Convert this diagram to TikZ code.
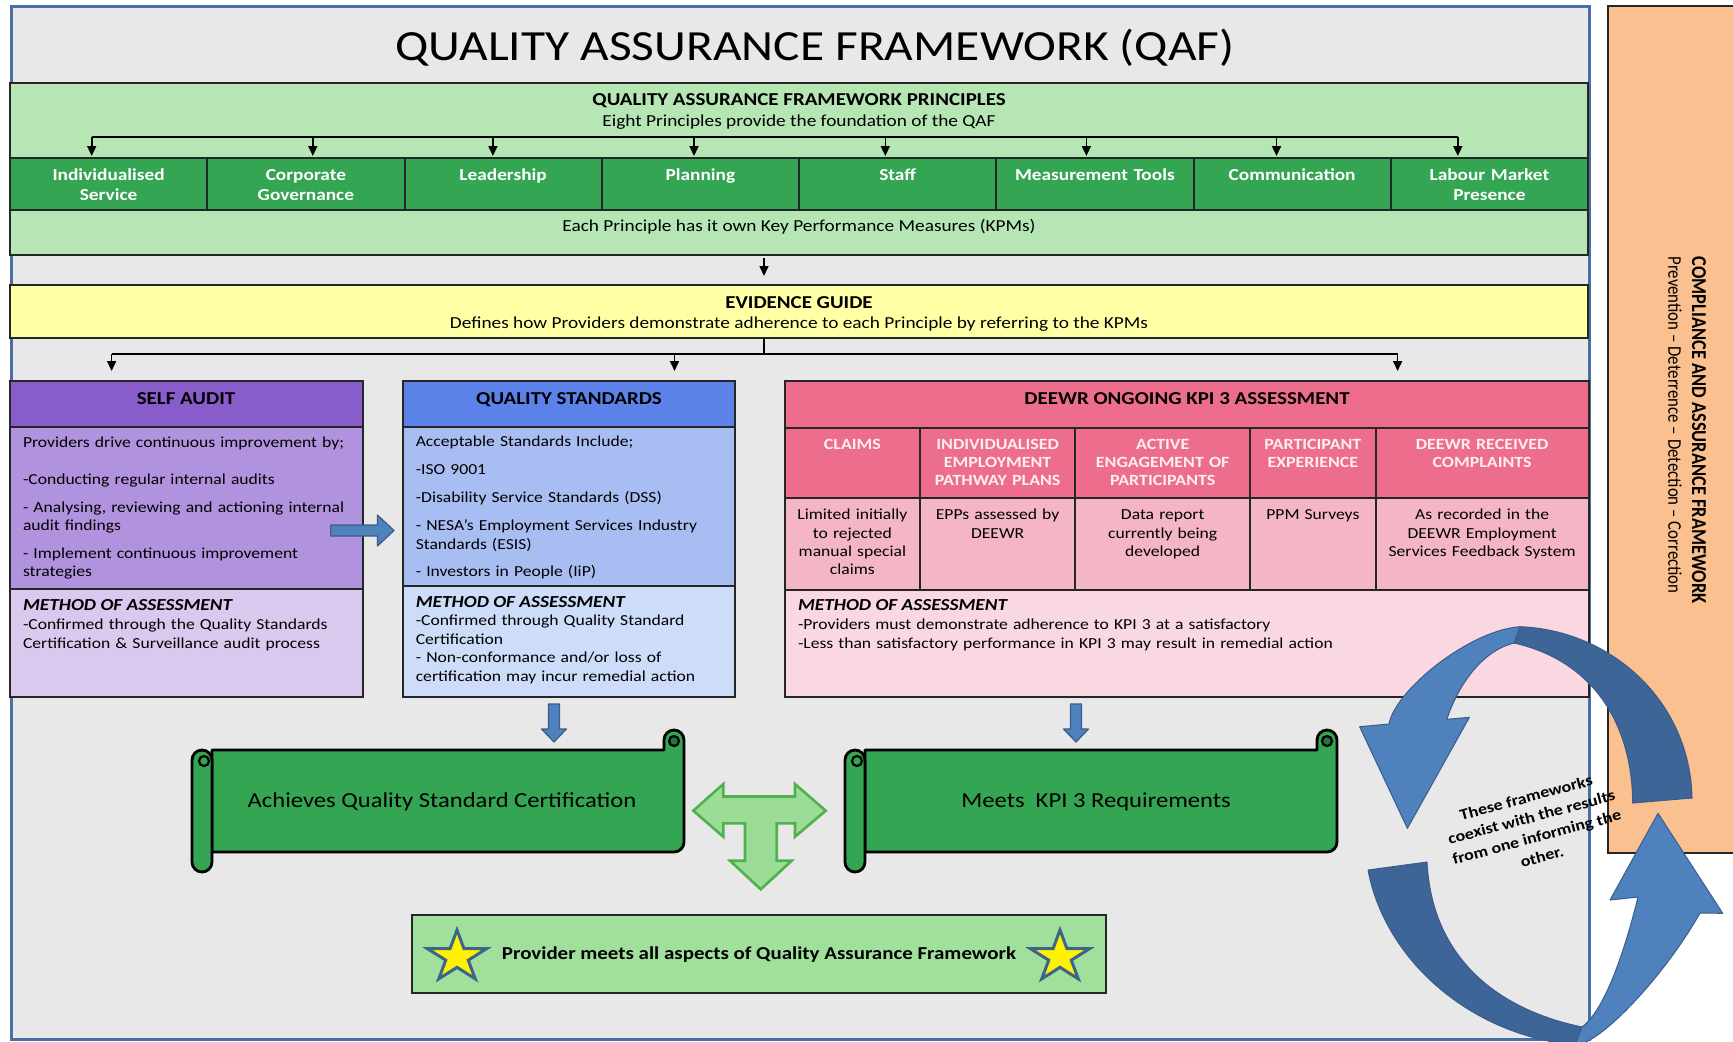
\documentclass[tikz,border=0pt]{standalone}
\usepackage{fontspec}
\setmainfont{Carlito}[FakeStretch=1.15]
\newfontfamily\plaincarlito{Carlito}
\usetikzlibrary{arrows.meta}
\definecolor{bgGray}{RGB}{232,232,232}
\definecolor{frameBlue}{RGB}{74,110,165}
\definecolor{lgreen}{RGB}{181,230,180}
\definecolor{mgreen}{RGB}{52,165,83}
\definecolor{dgreen}{RGB}{30,120,60}
\definecolor{evY}{RGB}{255,255,166}
\definecolor{saH}{RGB}{137,92,204}
\definecolor{saM}{RGB}{177,146,222}
\definecolor{saB}{RGB}{218,201,238}
\definecolor{qsH}{RGB}{90,130,232}
\definecolor{qsM}{RGB}{168,190,242}
\definecolor{qsB}{RGB}{205,220,248}
\definecolor{dwH}{RGB}{237,110,140}
\definecolor{dwM}{RGB}{244,182,198}
\definecolor{dwB}{RGB}{249,216,226}
\definecolor{orng}{RGB}{250,192,143}
\definecolor{arrBlue}{RGB}{79,129,189}
\definecolor{arrDark}{RGB}{61,101,151}
\definecolor{arrLine}{RGB}{56,93,138}
\definecolor{tFill}{RGB}{155,221,150}
\definecolor{tLine}{RGB}{80,176,80}
\definecolor{provG}{RGB}{160,224,156}
\definecolor{starLine}{RGB}{62,100,140}
\definecolor{hdrTxt}{RGB}{255,238,242}
\tikzset{
  panel/.style={draw=black!85, line width=1pt, inner sep=0pt, outer sep=0pt, anchor=north west},
  txt/.style={inner sep=0pt, outer sep=0pt},
  arr/.style={-{Triangle[length=5pt,width=4.5pt]}, line width=0.8pt, black},
  conn/.style={line width=0.8pt, black},
  scrl/.style={fill=mgreen, draw=black, line width=1.4pt, line join=round},
  scrlthin/.style={draw=black, line width=1.1pt},
  blockarr/.style={fill=arrBlue, draw=arrLine, line width=0.6pt, line join=round},
  ribbonL/.style={fill=arrBlue, draw=arrLine, line width=0.5pt, line join=round},
  ribbonD/.style={fill=arrDark, draw=arrLine, line width=0.5pt, line join=round},
  starsty/.style={fill=yellow, draw=starLine, line width=1.5pt, line join=miter},
  hdr/.style={txt, anchor=base, font=\bfseries\fontsize{9.1}{11}\selectfont},
  body/.style={txt, anchor=base west, align=left, font=\fontsize{7.65}{9.2}\selectfont},
  meth/.style={txt, anchor=base west, font=\bfseries\itshape\fontsize{8.4}{10}\selectfont},
  colhdr/.style={txt, anchor=base, align=center, text=hdrTxt, font=\bfseries\fontsize{7.8}{9.15}\selectfont},
  coldat/.style={txt, anchor=base, align=center, font=\fontsize{7.65}{9.2}\selectfont},
}
\newcommand{\boxnode}[6]{\node[panel, fill=#6, minimum width={(#4-#2)*0.5pt}, minimum height={(#5-#3)*0.5pt}] (#1) at (#2,#3) {};}
\newcommand{\scrollshape}[4]{%
  \draw[scrl] ({#1+20},{#2+20}) -- ({#3-20},{#2+20}) -- ({#3-20},{#2+10}) arc[start angle=180,end angle=360,radius=10] -- (#3,{#4-30}) arc[start angle=0,end angle=90,radius=10] -- ({#1+20},{#4-20}) -- cycle;
  \draw[scrl] (#1,{#2+30}) arc[start angle=180,end angle=360,radius=10] -- ({#1+20},{#4-10}) arc[start angle=0,end angle=180,radius=10] -- cycle;
  \draw[scrlthin] ({#1+12},{#2+31}) circle[radius=5];
  \draw[scrlthin, fill=dgreen] ({#3-10},{#2+11}) circle[radius=5];
}
\newcommand{\starshape}[2]{%
  \draw[starsty] ({#1},{#2-27}) \foreach \a/\r in {126/10.3,162/27,198/10.3,234/27,270/10.3,306/27,342/10.3,18/27,54/10.3}{ -- ({#1+1.15*\r*cos(\a)},{#2-\r*sin(\a)}) } -- cycle;
}
\begin{document}
\begin{tikzpicture}[x=0.5pt,y=-0.5pt]
\path[use as bounding box] (0,0) rectangle (1733,1041);
\fill[white] (0,0) rectangle (1733,1041);
% right orange panel
\node[panel, fill=orng, minimum width={140*0.5pt}, minimum height={(853-5.5)*0.5pt}] (cap) at (1608,5.5) {};
\node[txt, rotate=-90, font=\plaincarlito\bfseries\fontsize{9.2}{11}\selectfont] (capt) at (1699,430) {\scalebox{1}[1.15]{COMPLIANCE AND ASSURANCE FRAMEWORK}};
\node[txt, rotate=-90, font=\plaincarlito\fontsize{8.4}{10}\selectfont] (caps) at (1675,425) {\scalebox{1}[1.15]{Prevention – Deterrence – Detection – Correction}};
% frame
\node[draw=frameBlue, line width=1.5pt, fill=bgGray, inner sep=0pt, anchor=north west, minimum width={(1588-10)*0.5pt}, minimum height={(1038-5)*0.5pt}] (frame) at (10,5) {};
\node[txt, anchor=base, font=\fontsize{21.5}{24}\selectfont] (title) at (815,60) {QUALITY ASSURANCE FRAMEWORK (QAF)};
% principles band
\boxnode{pband}{10}{83}{1588}{255}{lgreen}
\node[hdr] (ph) at (799,105.9) {QUALITY ASSURANCE FRAMEWORK PRINCIPLES};
\node[txt, anchor=base, font=\fontsize{8.4}{10}\selectfont] (ps) at (799,126.7) {Eight Principles provide the foundation of the QAF};
\foreach \i/\lab in {1/{Individualised\\Service},2/{Corporate\\Governance},3/Leadership,4/Planning,5/Staff,6/Measurement Tools,7/Communication,8/{Labour Market\\Presence}}{
  \pgfmathsetmacro{\xa}{10+197.25*(\i-1)}
  \pgfmathsetmacro{\xb}{10+197.25*\i}
  \boxnode{c\i}{\xa}{158}{\xb}{209.5}{mgreen}
  \node[txt, anchor=base, text width=92pt, align=center, text=white, font=\bfseries\fontsize{8.4}{10}\selectfont] (ct\i) at ({(\xa+\xb)/2},180) {\lab};
}
\node[txt, anchor=base, font=\fontsize{8.4}{10}\selectfont] (kpm) at (799,231) {Each Principle has it own Key Performance Measures (KPMs)};
\coordinate (busL) at (91.7,137);
\coordinate (busR) at (1457.8,137);
\draw[conn] (busL) -- (busR);
\foreach \i/\x in {1/91.7,2/312.8,3/492.9,4/694,5/885.3,6/1086.4,7/1276.5,8/1457.8}{
  \coordinate (b\i) at (\x,137);
  \draw[arr, shorten >=1pt] (b\i) -- (b\i |- c\i.north);
}
% evidence guide
\boxnode{ev}{10}{285}{1588}{338}{evY}
\node[hdr] (evt) at (799,308) {EVIDENCE GUIDE};
\node[txt, anchor=base, font=\fontsize{8.4}{10}\selectfont] (evs) at (799,328.3) {Defines how Providers demonstrate adherence to each Principle by referring to the KPMs};
\coordinate (evx) at (764,0);
\draw[arr, shorten <=1.5pt, shorten >=4.5pt] (pband.south -| evx) -- (ev.north -| evx);
% three boxes
\boxnode{sah}{10}{381}{362.5}{427.3}{saH}
\boxnode{sam}{10}{427.3}{362.5}{589.3}{saM}
\boxnode{sab}{10}{589.3}{362.5}{696.5}{saB}
\boxnode{qsh}{403}{381}{735}{427.3}{qsH}
\boxnode{qsm}{403}{427.3}{735}{585.7}{qsM}
\boxnode{qsb}{403}{585.7}{735}{696.5}{qsB}
\boxnode{dwh}{785}{381}{1588.5}{427.7}{dwH}
\foreach \i/\xa/\xb in {1/785/919.8,2/919.8/1075.4,3/1075.4/1250,4/1250/1375.7,5/1375.7/1588.5}{
  \boxnode{dc\i}{\xa}{427.7}{\xb}{498.3}{dwH}
  \boxnode{dd\i}{\xa}{498.3}{\xb}{590}{dwM}
}
\boxnode{dwb}{785}{590}{1588.5}{696.5}{dwB}
\coordinate (j0) at (764,354);
\coordinate (jl) at (111.6,354);
\coordinate (jm) at (674.5,354);
\coordinate (jr) at (1397.6,354);
\draw[conn] (ev.south -| evx) -- (j0);
\draw[conn] (jl) -- (jr);
\draw[arr, shorten >=5pt] (jl) -- (jl |- sah.north);
\draw[arr, shorten >=5pt] (jm) -- (jm |- qsh.north);
\draw[arr, shorten >=5pt] (jr) -- (jr |- dwh.north);
% self audit text
\node[hdr] (sat) at (186,404.2) {SELF AUDIT};
\node[body, text width=172pt] (sab1) at (23,447.3) {Providers drive continuous improvement by;\\[9.45pt]-Conducting regular internal audits\\[4.65pt]- Analysing, reviewing and actioning internal\\audit findings\\[4.65pt]- Implement continuous improvement\\strategies};
\node[meth] (sam1) at (23,610.2) {METHOD OF ASSESSMENT};
\node[body, text width=172pt] (sam2) at (23,629.6) {-Confirmed through the Quality Standards\\Certification \& Surveillance audit process};
% quality standards text
\node[hdr] (qst) at (569,404.2) {QUALITY STANDARDS};
\node[body, text width=160pt] (qsb1) at (415.8,446.9) {Acceptable Standards Include;\\[4.75pt]-ISO 9001\\[4.75pt]-Disability Service Standards (DSS)\\[4.75pt]- NESA’s Employment Services Industry\\Standards (ESIS)\\[4.75pt]- Investors in People (IiP)};
\node[meth] (qsm1) at (415.8,607) {METHOD OF ASSESSMENT};
\node[body, text width=160pt, font=\fontsize{7.65}{9.3}\selectfont] (qsm2) at (415.8,625.6) {-Confirmed through Quality Standard\\Certification\\- Non-conformance and/or loss of\\certification may incur remedial action};
% DEEWR text
\node[hdr] (dwt) at (1187,404.2) {DEEWR ONGOING KPI 3 ASSESSMENT};
\node[colhdr, text width={(919.8-785-6)*0.5pt}] (dh1) at ({(785+919.8)/2},449) {CLAIMS};
\node[colhdr, text width={(1075.4-919.8-6)*0.5pt}] (dh2) at ({(919.8+1075.4)/2},449) {INDIVIDUALISED\\EMPLOYMENT\\PATHWAY PLANS};
\node[colhdr, text width={(1250-1075.4-6)*0.5pt}] (dh3) at ({(1075.4+1250)/2},449) {ACTIVE\\ENGAGEMENT OF\\PARTICIPANTS};
\node[colhdr, text width={(1375.7-1250-6)*0.5pt}] (dh4) at ({(1250+1375.7)/2},449) {PARTICIPANT\\EXPERIENCE};
\node[colhdr, text width={(1588.5-1375.7-6)*0.5pt}] (dh5) at ({(1375.7+1588.5)/2},449) {DEEWR RECEIVED\\COMPLAINTS};
\node[coldat, text width={(919.8-785-4)*0.5pt}] (dt1) at ({(785+919.8)/2},519.6) {Limited initially\\to rejected\\manual special\\claims};
\node[coldat, text width={(1075.4-919.8-6)*0.5pt}] (dt2) at ({(919.8+1075.4)/2},519.6) {EPPs assessed by\\DEEWR};
\node[coldat, text width={(1250-1075.4-6)*0.5pt}] (dt3) at ({(1075.4+1250)/2},519.6) {Data report\\currently being\\developed};
\node[coldat, text width={(1375.7-1250-6)*0.5pt}] (dt4) at ({(1250+1375.7)/2},519.6) {PPM Surveys};
\node[coldat, text width={(1588.5-1375.7-6)*0.5pt}] (dt5) at ({(1375.7+1588.5)/2},519.6) {As recorded in the\\DEEWR Employment\\Services Feedback System};
\node[meth] (dwm1) at (798,610.2) {METHOD OF ASSESSMENT};
\node[body, text width=390pt] (dwm2) at (798,629.6) {-Providers must demonstrate adherence to KPI 3 at a satisfactory\\-Less than satisfactory performance in KPI 3 may result in remedial action};
% blue block arrows
\draw[blockarr] (330.6,525) -- (377.5,525) -- (377.5,515) -- (394,530.5) -- (377.5,546) -- (377.5,536) -- (330.6,536) -- cycle;
\foreach \cx in {554,1076}{
  \draw[blockarr] ({\cx-5.5},704) -- ({\cx+5.5},704) -- ({\cx+5.5},729) -- ({\cx+12.5},729) -- (\cx,742) -- ({\cx-12.5},729) -- ({\cx-5.5},729) -- cycle;
}
% scrolls
\scrollshape{192}{730}{684}{872}
\node[txt, anchor=base, font=\fontsize{10.7}{13}\selectfont] (sc1) at (442,807.5) {Achieves Quality Standard Certification};
\scrollshape{845}{730}{1337}{872}
\node[txt, anchor=base, font=\fontsize{10.7}{13}\selectfont] (sc2) at (1096,807.5) {Meets\ \ KPI 3 Requirements};
% T arrow
\draw[fill=tFill, draw=tLine, line width=1.3pt, line join=miter] (693.3,810.7) -- (723.3,784) -- (723.3,796.5) -- (795,796.5) -- (795,784) -- (825.7,810.7) -- (795,836.7) -- (795,823.3) -- (776.7,823.3) -- (776.7,860.7) -- (791.7,860.7) -- (760.7,889.3) -- (730,860.7) -- (745,860.7) -- (745,823.3) -- (723.3,823.3) -- (723.3,836.7) -- cycle;
% provider box
\boxnode{prov}{412}{915}{1106}{992.5}{provG}
\node[txt, anchor=base, font=\bfseries\fontsize{9.1}{11}\selectfont] (provt) at (759,959.5) {Provider meets all aspects of Quality Assurance Framework};
\starshape{457}{957}
\starshape{1060}{957}
% circular arrows
\begin{scope}
\clip (0,0) rectangle (1733,1041);
\draw[ribbonD] (1520,626.7) .. controls (1610,630) and (1690,700) .. (1692,798) -- (1632.7,803) .. controls (1632,720) and (1590,660) .. (1514,643) -- cycle;
\draw[ribbonL] (1520,626.7) .. controls (1470,630) and (1395,690) .. (1389,724) -- (1359.6,726.7) -- (1407.4,828.3) -- (1469.4,717.3) -- (1446.8,719.3) .. controls (1460,680) and (1485,650) .. (1514,643) -- cycle;
\draw[ribbonD] (1368,870) .. controls (1385,960) and (1470,1035) .. (1575,1045) -- (1582,1027) .. controls (1500,1010) and (1432,960) .. (1427,862) -- cycle;
\draw[ribbonL] (1575,1045) .. controls (1600,1045) and (1665,975) .. (1700,913) -- (1722.7,913.3) -- (1658,813.3) -- (1610,900) -- (1638,897) .. controls (1625,950) and (1605,1010) .. (1582,1027) -- cycle;
\end{scope}
\node[txt, rotate=15, align=center, font=\bfseries\fontsize{7.8}{10.2}\selectfont] (coex) at (1534,827) {These frameworks\\coexist with the results\\from one informing the\\other.};
\end{tikzpicture}
\end{document}
